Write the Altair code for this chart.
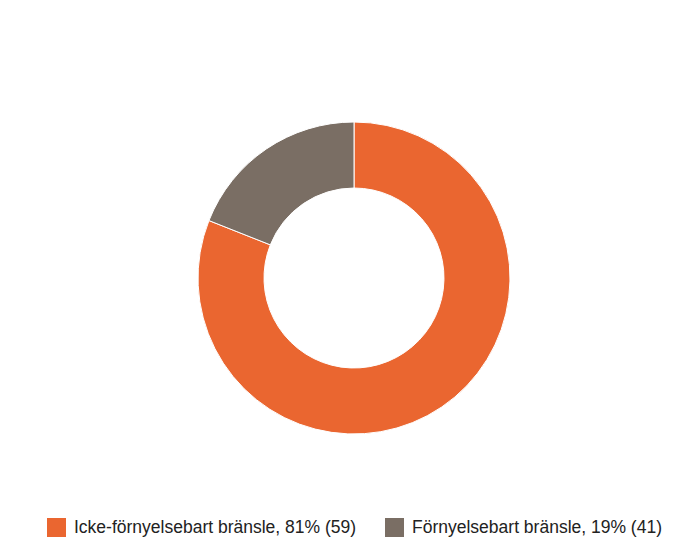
import altair as alt
import pandas as pd

labels = ["Icke-förnyelsebart bränsle, 81% (59)", "Förnyelsebart bränsle, 19% (41)"]
shares = [81, 19]
colors = ["#EA6630", "#7A6E64"]
order = [0, 1]

df = pd.DataFrame({"label": labels, "share": shares, "order": order})

chart = alt.Chart(df).mark_arc(
    innerRadius=90, outerRadius=156, stroke="white", strokeWidth=1
).encode(
    theta=alt.Theta("share:Q", stack=True),
    order=alt.Order("order:Q"),
    x=alt.value(346),
    y=alt.value(270),
    color=alt.Color(
        "label:N",
        scale=alt.Scale(domain=labels, range=colors),
        legend=alt.Legend(
            title=None,
            orient="none",
            direction="horizontal",
            legendX=39,
            legendY=510,
            symbolType="square",
            symbolSize=361,
            symbolStrokeWidth=0,
            labelFontSize=17.5,
            labelFont="Liberation Sans",
            labelColor="#222222",
            labelOffset=8,
            columnPadding=28,
            labelLimit=400,
        ),
    ),
).properties(
    width=683, height=532, autosize=alt.AutoSizeParams(type="none"), padding=0
).configure_view(stroke=None)

chart.save("out.html", embed_options={"renderer": "svg", "actions": False})
